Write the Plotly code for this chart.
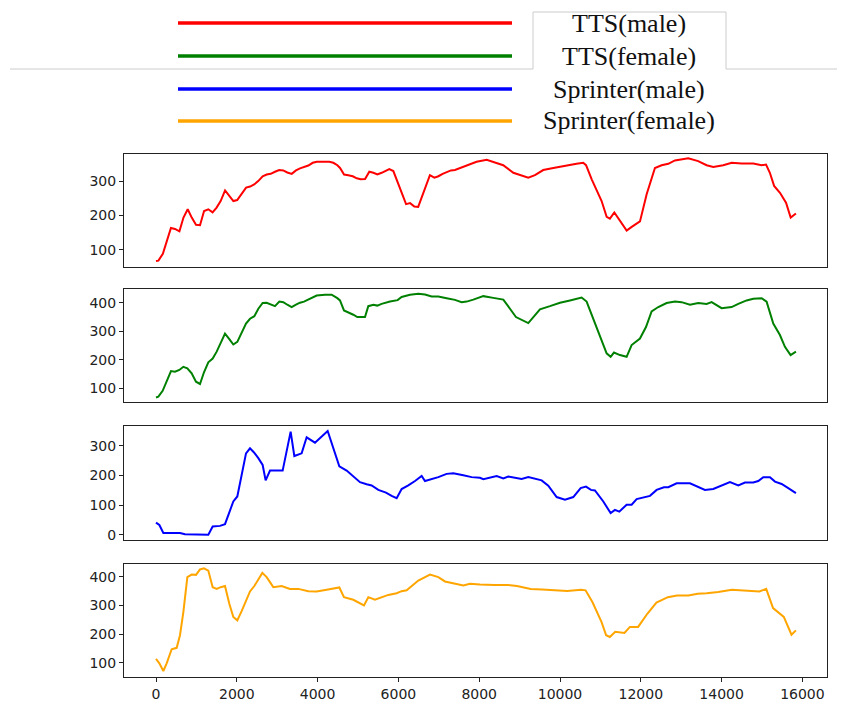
import plotly.graph_objects as go
from plotly.subplots import make_subplots

# ---------------- data ----------------
series_names = ["TTS(male)", "TTS(female)", "Sprinter(male)", "Sprinter(female)"]
series_colors = ["#ff0000", "#008000", "#0000ff", "#ffa500"]

red_x = [0, 60, 170, 265, 370, 470, 580, 680, 785, 885,
         990, 1090, 1190, 1295, 1400, 1500, 1600, 1710, 1815, 1915,
         2010, 2120, 2230, 2330, 2430, 2530, 2640, 2740, 2840, 2945,
         3050, 3150, 3250, 3360, 3465, 3565, 3665, 3770, 3880, 3980,
         4085, 4290, 4390, 4490, 4555, 4655, 4760, 4870, 4970, 5065,
         5175, 5280, 5380, 5480, 5585, 5695, 5775, 5875, 5980, 6080,
         6190, 6290, 6395, 6490, 6600, 6700, 6780, 6890, 6990, 7095,
         7195, 7300, 7400, 7505, 7605, 7730, 7935, 8185, 8390, 8595,
         8845, 9010, 9215, 9380, 9585, 9835, 10000, 10245, 10410, 10575,
         10645, 10785, 10905, 11030, 11155, 11235, 11345, 11485, 11650, 11775,
         11980, 12145, 12350, 12515, 12680, 12845, 13010, 13175, 13420, 13630,
         13795, 14040, 14250, 14495, 14785, 14990, 15100, 15195, 15300, 15445,
         15595, 15710, 15840]
red_y = [68, 69, 89, 125, 164, 161, 154, 194, 218, 194,
         173, 172, 213, 218, 209, 223, 242, 273, 257, 242,
         245, 263, 281, 284, 290, 300, 314, 319, 321, 327,
         332, 331, 325, 321, 331, 337, 340, 345, 353, 356,
         356, 356, 353, 346, 338, 319, 317, 314, 308, 305,
         306, 327, 324, 319, 324, 331, 335, 329, 295, 266,
         233, 236, 226, 225, 262, 295, 317, 310, 314, 321,
         327, 331, 332, 337, 341, 348, 356, 362, 353, 346,
         324, 317, 310, 317, 332, 338, 342, 346, 350, 353,
         346, 305, 276, 242, 196, 191, 209, 185, 156, 167,
         183, 262, 338, 346, 350, 360, 364, 366, 358, 346,
         341, 346, 353, 351, 351, 346, 348, 324, 286, 266,
         237, 194, 206]

green_x = [0, 58, 165, 264, 371, 470, 578, 677, 776, 883,
           990, 1089, 1188, 1295, 1403, 1502, 1601, 1708, 1815, 1914,
           2013, 2120, 2228, 2327, 2434, 2533, 2640, 2739, 2838, 2945,
           3053, 3152, 3250, 3358, 3465, 3564, 3663, 3770, 3878, 3977,
           4183, 4348, 4488, 4554, 4653, 4760, 4884, 4983, 5173, 5255,
           5379, 5478, 5585, 5792, 5981, 6080, 6286, 6493, 6658, 6823,
           6988, 7194, 7400, 7565, 7689, 7854, 8019, 8102, 8349, 8597,
           8762, 8910, 9215, 9504, 9752, 10000, 10247, 10535, 10659, 10824,
           10989, 11154, 11253, 11336, 11484, 11649, 11773, 11979, 12128, 12268,
           12433, 12639, 12846, 13010, 13217, 13423, 13629, 13753, 14000, 14248,
           14413, 14619, 14784, 14990, 15114, 15279, 15444, 15568, 15708, 15840]
green_y = [69, 72, 92, 124, 161, 159, 165, 176, 171, 153,
           124, 116, 157, 192, 205, 229, 257, 292, 273, 254,
           263, 298, 327, 344, 353, 379, 399, 400, 394, 388,
           404, 402, 393, 385, 393, 400, 404, 411, 420, 425,
           428, 428, 416, 408, 373, 367, 358, 350, 350, 388,
           393, 390, 396, 404, 409, 420, 428, 431, 429, 422,
           422, 416, 410, 402, 404, 411, 420, 423, 417, 411,
           379, 350, 329, 377, 388, 400, 408, 418, 404, 344,
           287, 223, 211, 226, 217, 211, 252, 275, 315, 370,
           385, 399, 404, 402, 393, 399, 396, 402, 381, 385,
           396, 408, 414, 416, 404, 327, 287, 246, 217, 229]

blue_x = [0, 83, 182, 371, 594, 718, 1007, 1295, 1403, 1584,
          1708, 1815, 1914, 2013, 2120, 2228, 2327, 2426, 2533, 2640,
          2714, 2822, 3135, 3333, 3424, 3605, 3729, 3935, 4249, 4389,
          4538, 4719, 4884, 5049, 5214, 5338, 5503, 5693, 5833, 5957,
          6080, 6245, 6411, 6576, 6658, 6823, 6988, 7194, 7359, 7607,
          7813, 8019, 8102, 8432, 8597, 8720, 9050, 9215, 9546, 9710,
          9917, 10123, 10329, 10511, 10643, 10766, 10865, 11072, 11253, 11360,
          11468, 11649, 11773, 11897, 12227, 12392, 12573, 12681, 12887, 13217,
          13423, 13588, 13794, 14000, 14207, 14413, 14578, 14784, 14908, 15032,
          15197, 15321, 15486, 15650, 15840]
blue_y = [41, 33, 6, 6, 6, 2, 1, 0, 28, 30,
          36, 73, 112, 129, 207, 274, 291, 277, 258, 235,
          183, 216, 216, 347, 265, 274, 328, 310, 349, 291,
          230, 216, 196, 177, 170, 166, 151, 142, 131, 123,
          154, 166, 181, 198, 181, 187, 194, 205, 207, 200,
          194, 192, 187, 198, 190, 196, 188, 194, 183, 165,
          127, 118, 127, 157, 162, 151, 149, 112, 73, 84,
          78, 101, 101, 120, 131, 151, 160, 160, 173, 173,
          160, 151, 154, 166, 177, 166, 176, 176, 181, 194,
          194, 179, 171, 157, 140]

orange_x = [0, 83, 182, 264, 388, 512, 594, 677, 776, 883,
            990, 1089, 1188, 1295, 1403, 1502, 1601, 1708, 1815, 1914,
            2013, 2120, 2327, 2434, 2632, 2739, 2904, 3110, 3316, 3523,
            3770, 3977, 4224, 4538, 4653, 4884, 5148, 5255, 5420, 5585,
            5750, 5957, 6080, 6204, 6493, 6782, 6988, 7153, 7359, 7607,
            7772, 8019, 8369, 8708, 8935, 9274, 9557, 9897, 10180, 10519,
            10633, 10802, 11029, 11142, 11233, 11368, 11595, 11731, 11934, 12161,
            12387, 12670, 12897, 13180, 13406, 13632, 13915, 14255, 14595, 14934,
            15104, 15274, 15540, 15730, 15840]
orange_y = [113, 98, 71, 98, 147, 152, 196, 277, 399, 408,
            407, 426, 430, 422, 364, 358, 364, 368, 306, 260,
            248, 280, 349, 368, 414, 399, 364, 368, 358, 358,
            350, 349, 355, 363, 329, 320, 300, 329, 320, 329,
            337, 343, 350, 353, 387, 408, 399, 384, 378, 370,
            376, 373, 372, 372, 368, 358, 356, 353, 351, 355,
            353, 312, 242, 196, 190, 208, 204, 225, 225, 271,
            310, 329, 335, 335, 341, 343, 347, 355, 351, 349,
            358, 291, 260, 198, 213]

series_x = [red_x, green_x, blue_x, orange_x]
series_y = [red_y, green_y, blue_y, orange_y]

x_ticks = [0, 2000, 4000, 6000, 8000, 10000, 12000, 14000, 16000]
x_ticktext = ["0", "2000", "4000", "6000", "8000", "10000", "12000", "14000", "16000"]
y_ticks = [[100, 200, 300], [100, 200, 300, 400], [0, 100, 200, 300], [100, 200, 300, 400]]
y_ranges = [[52, 380], [52, 448], [-17.5, 367], [50, 445]]
x_range = [-792, 16609]

# ---------------- layout geometry (pixels in the 845x709 page) ----------------
OFF = 8                     # default body margin of the page
W, H = 845 - OFF, 709 - OFF
L, R, T, B = 124 - OFF, 18, 153 - OFF, 32
PW = W - L - R
PH = H - T - B
panel_px = [(153.5, 266.5), (289, 402.3), (425.7, 540), (564, 677)]


def px2x(px):
    return (px - OFF - L) / PW


def py2y(py):
    return (H - B - (py - OFF)) / PH


fig = make_subplots(rows=4, cols=1, shared_xaxes=True)

for i in range(4):
    fig.add_trace(
        go.Scatter(x=series_x[i], y=series_y[i], mode="lines",
                   line=dict(color=series_colors[i], width=2),
                   name=series_names[i], showlegend=False),
        row=i + 1, col=1)

tickfont = dict(family="DejaVu Sans", size=14, color="#222222")
for i in range(4):
    top, bot = panel_px[i]
    ax_suffix = "" if i == 0 else str(i + 1)
    bottom = (i == 3)
    fig.layout["xaxis" + ax_suffix].update(
        domain=[0, 1], range=x_range, showline=True, mirror=True,
        linecolor="#222222", linewidth=1, showgrid=False, zeroline=False,
        tickvals=x_ticks, ticktext=x_ticktext,
        ticks="outside" if bottom else "",
        ticklen=4, tickcolor="#222222", showticklabels=bottom,
        tickfont=tickfont, automargin=False)
    fig.layout["yaxis" + ax_suffix].update(
        domain=[py2y(bot), py2y(top)], range=y_ranges[i], showline=True,
        mirror=True, linecolor="#222222", linewidth=1, showgrid=False,
        zeroline=False, tickvals=y_ticks[i], ticks="outside", ticklen=4,
        tickcolor="#222222", tickfont=tickfont, automargin=False)

# ---------------- custom legend ----------------
shapes = []
annotations = []
legend_rows_py = [23, 56, 89, 121]
for i in range(4):
    yy = py2y(legend_rows_py[i])
    shapes.append(dict(type="line", xref="paper", yref="paper",
                       x0=px2x(178), x1=px2x(512), y0=yy, y1=yy,
                       line=dict(color=series_colors[i], width=3.5)))
    annotations.append(dict(xref="paper", yref="paper", x=px2x(629), y=yy,
                            text=series_names[i], showarrow=False,
                            xanchor="center", yanchor="middle",
                            font=dict(family="Liberation Serif", size=26,
                                      color="#111111")))

tab_path = "M {a},{b} L {c},{b} L {c},{d} L {e},{d} L {e},{b} L {f},{b}".format(
    a=px2x(10), b=py2y(69), c=px2x(533), d=py2y(12), e=px2x(726), f=px2x(845))
shapes.insert(0, dict(type="path", xref="paper", yref="paper", path=tab_path,
                      line=dict(color="#cccccc", width=1)))

fig.update_layout(
    width=W, height=H,
    margin=dict(l=L, r=R, t=T, b=B, pad=0),
    paper_bgcolor="white", plot_bgcolor="white",
    shapes=shapes, annotations=annotations, showlegend=False,
)

fig.write_html("out.html")
